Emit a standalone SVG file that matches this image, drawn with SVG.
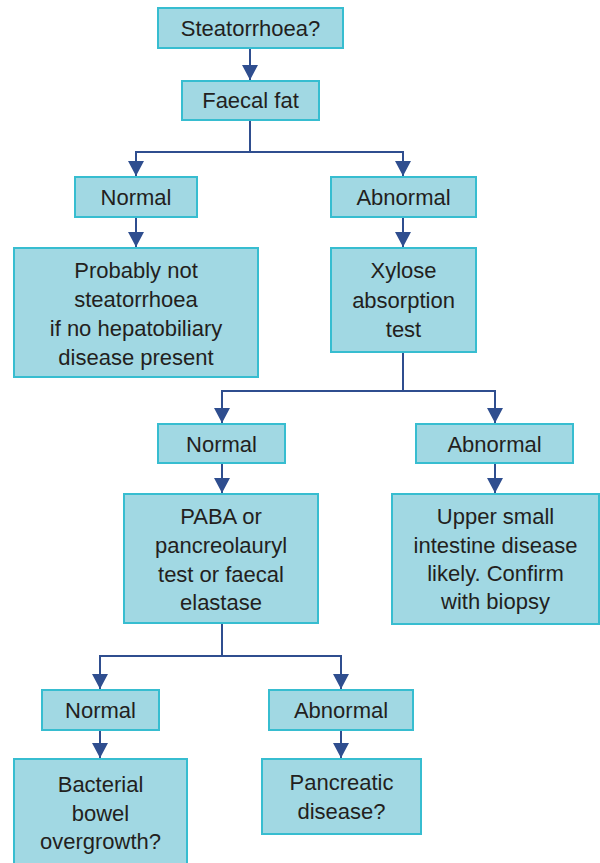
<svg xmlns="http://www.w3.org/2000/svg" width="600" height="863" viewBox="0 0 600 863">
<style>
.box{fill:#a1d8e3;stroke:#37bdd0;stroke-width:2}
.t{font-family:"Liberation Sans",Arial,sans-serif;font-size:22px;fill:#231f20;text-anchor:middle}
.c{fill:none;stroke:#2f4e8f;stroke-width:2}
</style>
<defs>
<marker id="ah" markerUnits="userSpaceOnUse" viewBox="0 0 15 16" refX="15" refY="8" markerWidth="15" markerHeight="16" orient="auto">
<path d="M0,0 L15,8 L0,16 z" fill="#2f4e8f"/>
</marker>
</defs>
<rect width="600" height="863" fill="#ffffff"/>
<g id="connectors">
<path class="c" d="M250,48 V80" marker-end="url(#ah)"/>
<path class="c" d="M250,120 V152 H136 V176" marker-end="url(#ah)"/>
<path class="c" d="M250,152 H403 V176" marker-end="url(#ah)"/>
<path class="c" d="M136,217 V247" marker-end="url(#ah)"/>
<path class="c" d="M403,217 V247" marker-end="url(#ah)"/>
<path class="c" d="M403,352 V391 H222 V423" marker-end="url(#ah)"/>
<path class="c" d="M403,391 H495 V423" marker-end="url(#ah)"/>
<path class="c" d="M222,463 V493" marker-end="url(#ah)"/>
<path class="c" d="M495,463 V493" marker-end="url(#ah)"/>
<path class="c" d="M222,623 V656 H100 V689" marker-end="url(#ah)"/>
<path class="c" d="M222,656 H341 V689" marker-end="url(#ah)"/>
<path class="c" d="M100,730 V758" marker-end="url(#ah)"/>
<path class="c" d="M341,730 V758" marker-end="url(#ah)"/>
</g>
<g id="n-steatorrhoea">
<rect class="box" x="158" y="8" width="185" height="40"/>
<text class="t" x="250.5" y="36">Steatorrhoea?</text>
</g>
<g id="n-faecalfat">
<rect class="box" x="182" y="81" width="137" height="39"/>
<text class="t" x="250.5" y="108">Faecal fat</text>
</g>
<g id="n-normal1">
<rect class="box" x="75" y="177" width="122" height="40"/>
<text class="t" x="136" y="205">Normal</text>
</g>
<g id="n-abnormal1">
<rect class="box" x="331" y="177" width="145" height="40"/>
<text class="t" x="403.5" y="205">Abnormal</text>
</g>
<g id="n-probablynot">
<rect class="box" x="14" y="248" width="244" height="129"/>
<text class="t" x="136" y="278">Probably not</text>
<text class="t" x="136" y="307">steatorrhoea</text>
<text class="t" x="136" y="336">if no hepatobiliary</text>
<text class="t" x="136" y="365">disease present</text>
</g>
<g id="n-xylose">
<rect class="box" x="331" y="248" width="145" height="104"/>
<text class="t" x="403.5" y="278">Xylose</text>
<text class="t" x="403.5" y="308">absorption</text>
<text class="t" x="403.5" y="337">test</text>
</g>
<g id="n-normal2">
<rect class="box" x="158" y="424" width="127" height="39"/>
<text class="t" x="221.5" y="452">Normal</text>
</g>
<g id="n-abnormal2">
<rect class="box" x="416" y="424" width="157" height="39"/>
<text class="t" x="494.5" y="452">Abnormal</text>
</g>
<g id="n-paba">
<rect class="box" x="124" y="494" width="194" height="129"/>
<text class="t" x="221" y="524">PABA or</text>
<text class="t" x="221" y="553">pancreolauryl</text>
<text class="t" x="221" y="582">test or faecal</text>
<text class="t" x="221" y="610">elastase</text>
</g>
<g id="n-uppersmall">
<rect class="box" x="392" y="494" width="207" height="130"/>
<text class="t" x="495.5" y="524">Upper small</text>
<text class="t" x="495.5" y="553">intestine disease</text>
<text class="t" x="495.5" y="581">likely. Confirm</text>
<text class="t" x="495.5" y="609">with biopsy</text>
</g>
<g id="n-normal3">
<rect class="box" x="42" y="690" width="117" height="40"/>
<text class="t" x="100.5" y="718">Normal</text>
</g>
<g id="n-abnormal3">
<rect class="box" x="269" y="690" width="144" height="40"/>
<text class="t" x="341" y="718">Abnormal</text>
</g>
<g id="n-bacterial">
<rect class="box" x="14" y="759" width="173" height="110"/>
<text class="t" x="100.5" y="792">Bacterial</text>
<text class="t" x="100.5" y="821">bowel</text>
<text class="t" x="100.5" y="849">overgrowth?</text>
</g>
<g id="n-pancreatic">
<rect class="box" x="262" y="759" width="159" height="75"/>
<text class="t" x="341.5" y="790">Pancreatic</text>
<text class="t" x="341.5" y="819">disease?</text>
</g>
</svg>
